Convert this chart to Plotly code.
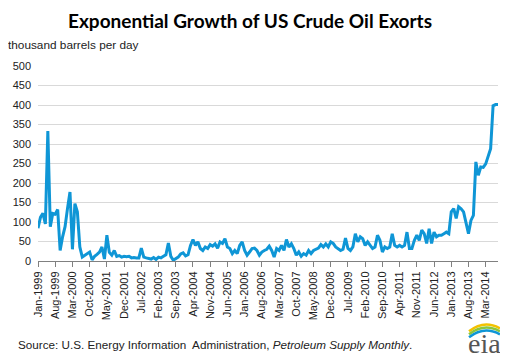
import plotly.graph_objects as go

# Monthly US crude oil exports, thousand barrels per day, Jan-1999 .. Aug-2014
exports = [
    84, 112, 122, 95, 333, 88, 122, 120, 132, 27, 62, 88,
    135, 177, 30, 147, 126, 36, 10, 14, 19, 23, 3, 12,
    17, 23, 36, 5, 66, 22, 15, 27, 12, 14, 10, 12,
    11, 12, 8, 9, 8, 8, 33, 10, 8, 6, 5, 9,
    4, 10, 8, 12, 16, 46, 12, 2, 6, 10, 18, 21,
    13, 16, 40, 55, 40, 49, 32, 27, 36, 32, 42, 38,
    44, 33, 49, 45, 57, 36, 32, 19, 27, 19, 40, 49,
    27, 15, 23, 32, 33, 27, 15, 23, 27, 30, 38, 27,
    10, 32, 27, 40, 27, 55, 36, 44, 32, 15, 23, 12,
    19, 15, 27, 19, 27, 30, 33, 42, 36, 44, 36, 49,
    45, 36, 32, 27, 30, 59, 32, 27, 36, 70, 49, 62,
    57, 40, 49, 40, 32, 36, 66, 53, 23, 36, 32, 36,
    70, 40, 36, 40, 36, 40, 74, 32, 32, 53, 66, 53,
    79, 70, 45, 83, 45, 74, 62, 66, 66, 70, 74, 70,
    126, 134, 109, 139, 134, 126, 96, 70, 104, 117, 254, 220,
    241, 240, 249, 271, 288, 398, 401, 401,
]

tick_labels = [
    "Jan-1999", "Aug-1999", "Mar-2000", "Oct-2000", "May-2001", "Dec-2001",
    "Jul-2002", "Feb-2003", "Sep-2003", "Apr-2004", "Nov-2004", "Jun-2005",
    "Jan-2006", "Aug-2006", "Mar-2007", "Oct-2007", "May-2008", "Dec-2008",
    "Jul-2009", "Feb-2010", "Sep-2010", "Apr-2011", "Nov-2011", "Jun-2012",
    "Jan-2013", "Aug-2013", "Mar-2014",
]
tick_positions = [i * 7 for i in range(len(tick_labels))]

y_ticks = [0, 50, 100, 150, 200, 250, 300, 350, 400, 450, 500]

month_index = list(range(len(exports)))

fig = go.Figure()
fig.add_trace(go.Scatter(
    x=month_index, y=exports, mode="lines",
    line=dict(color="#0f96d6", width=3),
    hoverinfo="skip", showlegend=False,
))

font_main = "Liberation Sans, Arial, sans-serif"

# The page body adds an 8px offset, so the figure is 500x352 placed at (8, 8).
fig.update_layout(
    width=500, height=352,
    margin=dict(l=30, r=10, t=58, b=99, autoexpand=False),
    paper_bgcolor="white", plot_bgcolor="white",
    font=dict(family=font_main, size=11, color="#222222"),
    xaxis=dict(
        range=[0, len(exports) - 1],
        tickmode="array", tickvals=tick_positions, ticktext=tick_labels,
        tickangle=-90, ticks="outside", ticklen=5, tickcolor="#808080",
        showline=True, linecolor="#808080", linewidth=1,
        showgrid=False, zeroline=False, automargin=False,
        tickfont=dict(family=font_main, size=11, color="#222222"),
    ),
    yaxis=dict(
        range=[0, 500], tickmode="array", tickvals=y_ticks,
        showgrid=True, gridcolor="#d9d9d9", gridwidth=1,
        zeroline=False, showline=False, ticks="", automargin=False,
        ticklabelstandoff=6,
        tickfont=dict(family=font_main, size=11, color="#222222"),
    ),
)

def px(xp):
    # reference-pixel x -> paper coordinate
    return (xp - 38) / 460

def py(yp):
    # reference-pixel y -> paper coordinate
    return (260.7 - yp) / 195

fig.update_layout(annotations=[
    dict(text="<b>Exponential Growth of US Crude Oil Exorts</b>",
         xref="paper", yref="paper", x=px(250), y=py(20.5),
         xanchor="center", yanchor="middle", showarrow=False,
         font=dict(family="Lato, Open Sans, sans-serif", size=19, color="black")),
    dict(text="thousand barrels per day",
         xref="paper", yref="paper", x=px(6), y=py(45),
         xanchor="left", yanchor="middle", showarrow=False,
         font=dict(family=font_main, size=11.8, color="#222222")),
    dict(text="Source: U.S. Energy Information  Administration, <i>Petroleum Supply Monthly</i>.",
         xref="paper", yref="paper", x=px(16), y=py(344),
         xanchor="left", yanchor="middle", showarrow=False,
         font=dict(family=font_main, size=11.7, color="#222222")),
    dict(text="eia",
         xref="paper", yref="paper", x=px(484), y=py(343),
         xanchor="center", yanchor="middle", showarrow=False,
         font=dict(family="Liberation Serif, DejaVu Serif, serif", size=28, color="#555555")),
])

arcs = [("#f2c200", 326), ("#8cc63e", 329), ("#0f96d6", 332)]
for color, yb in arcs:
    path = "M {:.4f},{:.4f} Q {:.4f},{:.4f} {:.4f},{:.4f}".format(
        px(469), py(yb + 5), px(484), py(yb - 7), px(500), py(yb + 2))
    fig.add_shape(type="path", path=path, xref="paper", yref="paper",
                  line=dict(color=color, width=2.5))

fig.write_html("out.html")
